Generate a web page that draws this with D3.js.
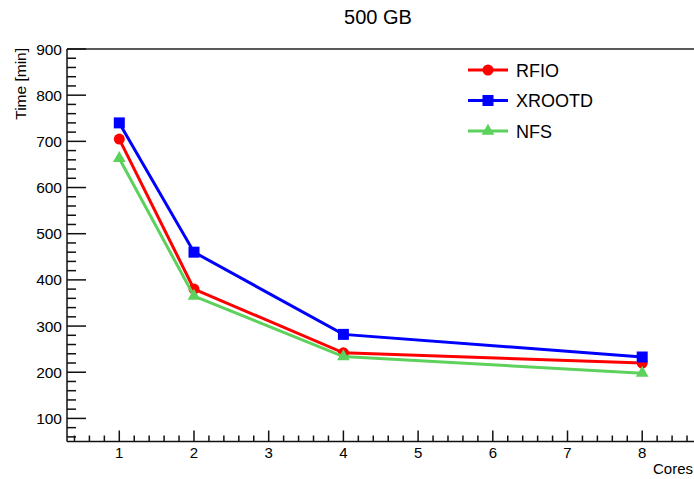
<!DOCTYPE html>
<html><head><meta charset="utf-8">
<script src="https://cdn.jsdelivr.net/npm/d3@7"></script>
<style>body{margin:0;background:#fff;} svg{display:block;font-family:"Liberation Sans",Arial,sans-serif;}</style>
</head><body>
<svg id="c" width="694" height="479"></svg>
<script>
const cores = [1, 2, 4, 8];
const rfio = [705, 380, 242, 220];
const xrootd = [740, 460, 282, 233];
const nfs = [663, 365, 234, 198];
const seriesNames = ["RFIO", "XROOTD", "NFS"];
const seriesColors = ["#ff0000", "#0000ff", "#5cd15c"];
const seriesShapes = ["circle", "square", "triangle"];
const xTicks = [1, 2, 3, 4, 5, 6, 7, 8];
const yTicks = [100, 200, 300, 400, 500, 600, 700, 800, 900];

const svg = d3.select("#c");
const L = 67, R = 694.5, T = 49, B = 441.5;
const x = d3.scaleLinear().domain([0.3, 8.7]).range([L, R]);
const y = d3.scaleLinear().domain([50, 900]).range([B, T]);

// frame top line
svg.append("line").attr("x1", L).attr("x2", R).attr("y1", T).attr("y2", T)
  .attr("stroke", "#222").attr("stroke-width", 1.5);

// y axis
const yMinor = d3.range(60, 901, 20).filter(v => v % 100 !== 0);
svg.append("line").attr("x1", L).attr("x2", L).attr("y1", T).attr("y2", B).attr("stroke", "#111").attr("stroke-width", 1.5);
svg.selectAll(".ymaj").data(yTicks).join("line").attr("x1", L).attr("x2", L + 19)
  .attr("y1", d => y(d)).attr("y2", d => y(d)).attr("stroke", "#111").attr("stroke-width", 1.5);
svg.selectAll(".ymin").data(yMinor).join("line").attr("class", "ymin").attr("x1", L).attr("x2", L + 9)
  .attr("y1", d => y(d)).attr("y2", d => y(d)).attr("stroke", "#111").attr("stroke-width", 1.5);
svg.selectAll(".ylab").data(yTicks).join("text").attr("class", "ylab").attr("x", L - 5).attr("y", d => y(d) + 5.5)
  .attr("text-anchor", "end").attr("font-size", 15.5).text(d => d);

// x axis
const xMinor = d3.range(0.4, 8.7, 0.2).map(v => Math.round(v * 10) / 10).filter(v => Math.abs(v - Math.round(v)) > 0.01);
svg.append("line").attr("x1", L).attr("x2", R).attr("y1", B).attr("y2", B).attr("stroke", "#111").attr("stroke-width", 1.5);
svg.selectAll(".xmaj").data(xTicks).join("line").attr("class", "xmaj").attr("x1", d => x(d)).attr("x2", d => x(d))
  .attr("y1", B).attr("y2", B - 11).attr("stroke", "#111").attr("stroke-width", 1.5);
svg.selectAll(".xmin").data(xMinor).join("line").attr("class", "xmin").attr("x1", d => x(d)).attr("x2", d => x(d))
  .attr("y1", B).attr("y2", B - 6).attr("stroke", "#111").attr("stroke-width", 1.5);
svg.selectAll(".xlab").data(xTicks).join("text").attr("class", "xlab").attr("x", d => x(d)).attr("y", 458)
  .attr("text-anchor", "middle").attr("font-size", 15).text(d => d);

// titles
svg.append("text").attr("x", 378).attr("y", 24).attr("text-anchor", "middle").attr("font-size", 20).text("500 GB");
svg.append("text").attr("x", 693).attr("y", 474).attr("text-anchor", "end").attr("font-size", 15).text("Cores");
svg.append("text").attr("transform", "translate(26,48) rotate(-90)").attr("text-anchor", "end").attr("font-size", 15.5).text("Time [min]");

// series
const data = [rfio, xrootd, nfs];
const line = d3.line().x(d => x(d[0])).y(d => y(d[1]));
function marker(g, shape, color, cx, cy) {
  if (shape === "circle") g.append("circle").attr("cx", cx).attr("cy", cy).attr("r", 5.5).attr("fill", color);
  else if (shape === "square") g.append("rect").attr("x", cx - 5.5).attr("y", cy - 5.5).attr("width", 11).attr("height", 11).attr("fill", color);
  else g.append("path").attr("d", d3.symbol(d3.symbolTriangle, 70)()).attr("transform", `translate(${cx},${cy})`).attr("fill", color);
}
data.forEach((vals, i) => {
  const pts = cores.map((c, k) => [c, vals[k]]);
  svg.append("path").attr("d", line(pts)).attr("fill", "none").attr("stroke", seriesColors[i]).attr("stroke-width", 3);
  const g = svg.append("g");
  pts.forEach(p => marker(g, seriesShapes[i], seriesColors[i], x(p[0]), y(p[1])));
});

// legend
seriesNames.forEach((n, i) => {
  const ly = 70 + i * 30.5;
  svg.append("line").attr("x1", 468).attr("x2", 508).attr("y1", ly).attr("y2", ly).attr("stroke", seriesColors[i]).attr("stroke-width", 3);
  marker(svg, seriesShapes[i], seriesColors[i], 488, ly);
  svg.append("text").attr("x", 516).attr("y", ly + 6.5).attr("font-size", 18).text(n);
});
</script>
</body></html>
